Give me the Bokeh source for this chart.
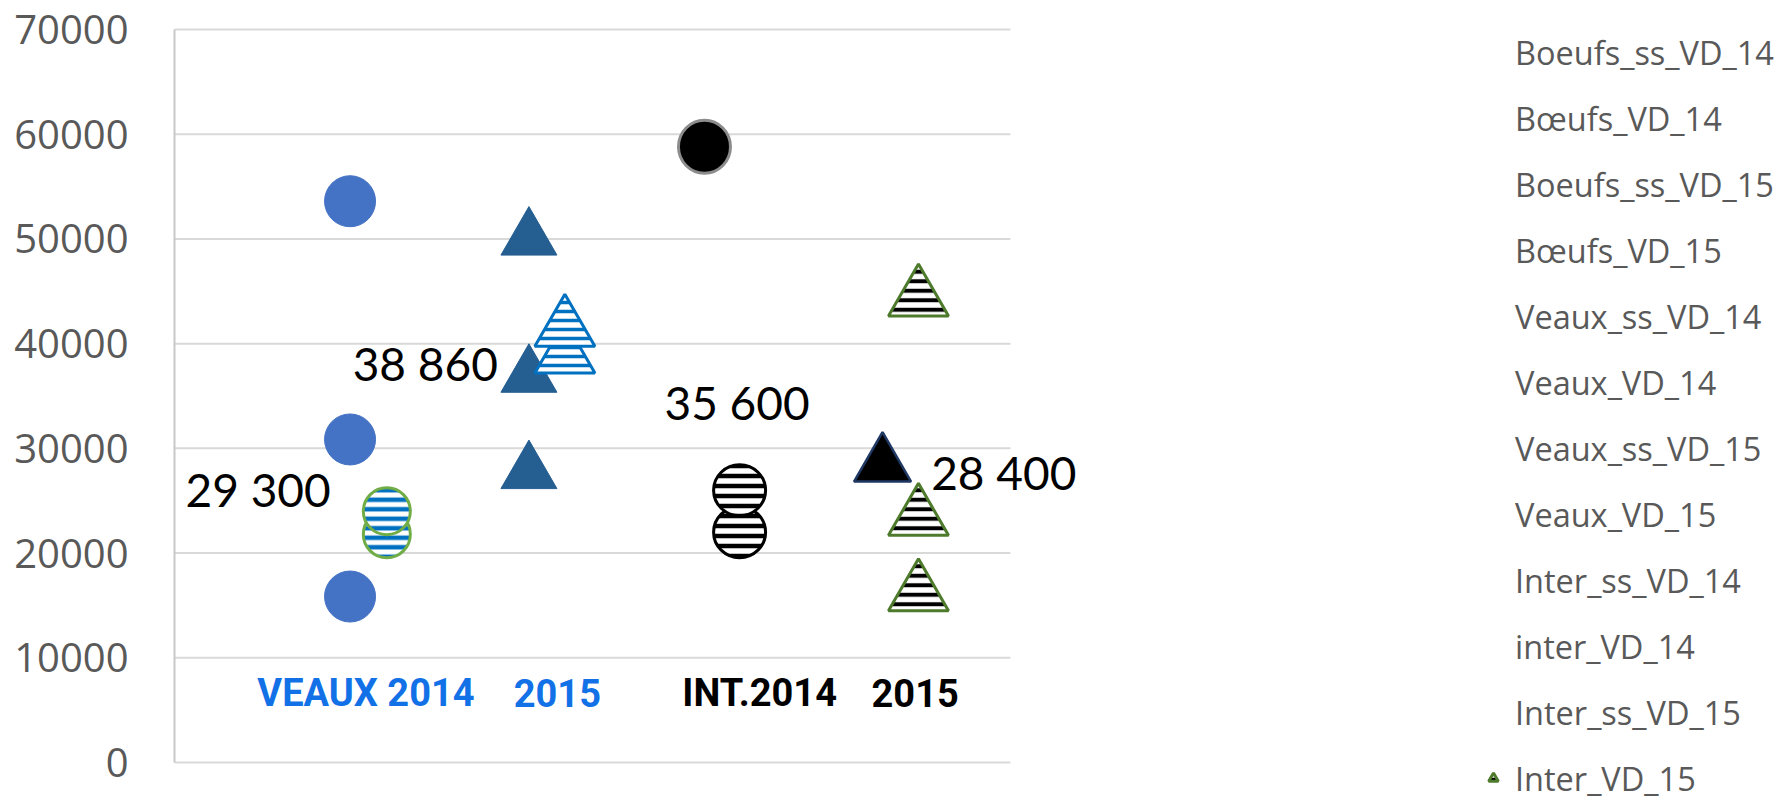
from bokeh.plotting import figure
from bokeh.models import Legend, LegendItem, Label, Range1d, FixedTicker
from bokeh.embed import file_html
from bokeh.resources import INLINE

# ---------------- data ----------------
y_ticks = [0, 10000, 20000, 30000, 40000, 50000, 60000, 70000]
y_tick_labels = ["0", "10000", "20000", "30000", "40000", "50000", "60000", "70000"]

legend_names = ["Boeufs_ss_VD_14", "Bœufs_VD_14", "Boeufs_ss_VD_15", "Bœufs_VD_15",
                "Veaux_ss_VD_14", "Veaux_VD_14", "Veaux_ss_VD_15", "Veaux_VD_15",
                "Inter_ss_VD_14", "inter_VD_14", "Inter_ss_VD_15", "Inter_VD_15"]

# column position of each plotted series on the hidden horizontal axis (plot area = 0..10)
x_veaux_ss_vd_14 = 2.10
x_veaux_vd_14 = 2.54
x_veaux_ss_vd_15 = 4.24
x_veaux_vd_15 = 4.67
x_inter_ss_vd_14 = 6.34
x_inter_vd_14 = 6.76
x_inter_ss_vd_15 = 8.47
x_inter_vd_15 = 8.90

veaux_ss_vd_14 = [53600, 30850, 15850]
veaux_vd_14 = [21800, 24000]
veaux_ss_vd_15 = [50000, 36900, 27700]
veaux_vd_15 = [38860, 41400]
inter_ss_vd_14 = [58800]
inter_vd_14 = [22000, 26000]
inter_ss_vd_15 = [28400]
inter_vd_15 = [16150, 23350, 44300]

value_labels = ["29 300", "38 860", "35 600", "28 400"]
value_label_x = [1.00, 3.00, 6.73, 9.92]
value_label_y = [26100, 38100, 34400, 27700]

group_labels = ["VEAUX 2014", "2015", "INT.2014", "2015"]
group_label_x = [2.29, 4.58, 7.00, 8.86]
group_label_y = [6640, 6640, 6640, 6640]
group_label_colors = ["#1271E6", "#1271E6", "#000000", "#000000"]

# plot-area extent (x) and visible value range
X_AREA = (0, 10)
X_RANGE = (0, 19.32)
Y_RANGE = (-3629, 72769)

# ---------------- figure ----------------
p = figure(width=1789, height=800, x_range=Range1d(*X_RANGE), y_range=Range1d(*Y_RANGE),
           output_backend="svg", toolbar_location=None,
           min_border_left=174, min_border_right=0, min_border_top=0, min_border_bottom=0)
p.outline_line_color = None
p.background_fill_color = "white"
p.xaxis.visible = False
p.xgrid.visible = False
p.ygrid.visible = False

# horizontal gridlines of the plot area
p.segment(x0=[X_AREA[0]] * len(y_ticks), x1=[X_AREA[1]] * len(y_ticks), y0=y_ticks, y1=y_ticks,
          line_color="#D9D9D9", line_width=2)

p.yaxis.ticker = FixedTicker(ticks=y_ticks)
p.yaxis.bounds = (y_ticks[0], y_ticks[-1])
p.yaxis.major_label_overrides = {t: l for t, l in zip(y_ticks, y_tick_labels)}
p.yaxis.axis_line_color = "#C8C8C8"
p.yaxis.axis_line_width = 2
p.yaxis.major_tick_line_color = None
p.yaxis.minor_tick_line_color = None
p.yaxis.major_tick_out = 0
p.yaxis.major_tick_in = 0
p.yaxis.major_label_standoff = 46
p.yaxis.major_label_text_font = "Open Sans"
p.yaxis.major_label_text_font_size = "40px"
p.yaxis.major_label_text_color = "#595959"

def xs(xpos, vals):
    return [xpos] * len(vals)

# Veaux 2014
p.ellipse(x=xs(x_veaux_ss_vd_14, veaux_ss_vd_14), y=veaux_ss_vd_14, width=51, height=51,
          width_units="screen", height_units="screen",
          fill_color="#4472C4", line_color="#4472C4", line_width=1)
p.ellipse(x=xs(x_veaux_vd_14, veaux_vd_14), y=veaux_vd_14, width=47, height=47,
          width_units="screen", height_units="screen",
          fill_color="white", hatch_pattern="horizontal_line", hatch_color="#0070C0",
          hatch_weight=4.5, hatch_scale=9.5, line_color="#70AD47", line_width=3)
# Veaux 2015
p.scatter(x=xs(x_veaux_ss_vd_15, veaux_ss_vd_15), y=veaux_ss_vd_15, marker="triangle", size=56,
          fill_color="#255E91", line_color="#255E91", line_width=1)
p.scatter(x=xs(x_veaux_vd_15, veaux_vd_15), y=veaux_vd_15, marker="triangle", size=60,
          fill_color="white", hatch_pattern="horizontal_line", hatch_color="#0070C0",
          hatch_weight=3.5, hatch_scale=9, line_color="#0070C0", line_width=3)
# Inter 2014
p.ellipse(x=xs(x_inter_ss_vd_14, inter_ss_vd_14), y=inter_ss_vd_14, width=52, height=53,
          width_units="screen", height_units="screen",
          fill_color="black", line_color="#8C8C8C", line_width=3)
p.ellipse(x=xs(x_inter_vd_14, inter_vd_14), y=inter_vd_14, width=52, height=51,
          width_units="screen", height_units="screen",
          fill_color="white", hatch_pattern="horizontal_line", hatch_color="black",
          hatch_weight=4.5, hatch_scale=10, line_color="black", line_width=3)
# Inter 2015
p.scatter(x=xs(x_inter_ss_vd_15, inter_ss_vd_15), y=inter_ss_vd_15, marker="triangle", size=57,
          fill_color="black", line_color="#203864", line_width=2.5)
r_last = p.scatter(x=xs(x_inter_vd_15, inter_vd_15), y=inter_vd_15, marker="triangle", size=60,
                   fill_color="white", hatch_pattern="horizontal_line", hatch_color="black",
                   hatch_weight=4, hatch_scale=9.5, line_color="#4E7A2C", line_width=3)

for t, lx, ly in zip(value_labels, value_label_x, value_label_y):
    p.add_layout(Label(x=lx, y=ly, text=t, text_align="center", text_baseline="middle",
                       text_font="Lato", text_font_size="46px", text_color="black"))

for t, lx, ly, c in zip(group_labels, group_label_x, group_label_y, group_label_colors):
    p.add_layout(Label(x=lx, y=ly, text=t, text_align="center", text_baseline="middle",
                       text_font="Roboto", text_font_style="bold",
                       text_font_size="38px", text_color=c))

# legend (markers of the legend are hidden/clipped in the original, except the last one)
items = []
for name in legend_names[:-1]:
    dummy = p.scatter(x=[], y=[], marker="circle", fill_alpha=0, line_alpha=0)
    items.append(LegendItem(label=name, renderers=[dummy]))
items.append(LegendItem(label=legend_names[-1], renderers=[r_last]))

legend = Legend(items=items, location=(1307, -1), glyph_width=24, glyph_height=46,
                spacing=20, padding=0, margin=0, label_standoff=10,
                label_text_font="Open Sans", label_text_font_size="32.5px",
                label_text_color="#595959", border_line_color=None,
                background_fill_alpha=0)
p.add_layout(legend)

open("out.html", "w").write(file_html(p, INLINE))
